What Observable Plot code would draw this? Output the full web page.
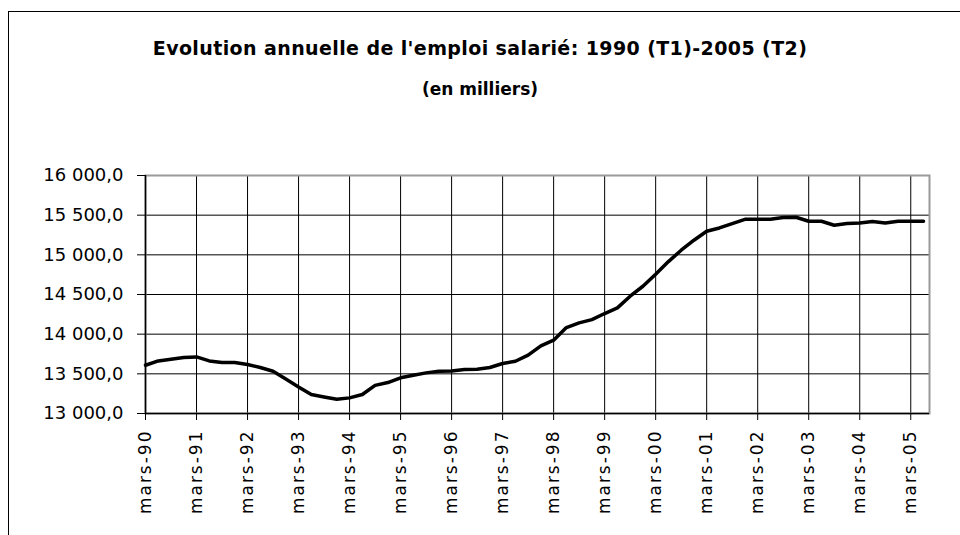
<!DOCTYPE html>
<html>
<head>
<meta charset="utf-8">
<script src="https://cdn.jsdelivr.net/npm/d3@7"></script>
<script src="https://cdn.jsdelivr.net/npm/@observablehq/plot@0.6"></script>
<style>
  html, body { margin: 0; padding: 0; background: #fff; }
  #wrap { position: relative; width: 960px; height: 535px; overflow: hidden; background: #fff; }
  #frame { position: absolute; left: 8px; top: 11px; width: 1000px; height: 600px; border: 1px solid #000; box-sizing: border-box; }
  .t { position: absolute; left: 0; width: 960px; text-align: center; font-family: "DejaVu Sans", sans-serif; font-weight: bold; color: #000; }
  #chart { position: absolute; left: 0; top: 150px; }
  #chart g[aria-label="x-axis tick label"] text { letter-spacing: 2px; }
</style>
</head>
<body>
<div id="wrap">
  <div id="frame"></div>
  <div class="t" style="top:37px;font-size:19px;letter-spacing:0.4px">Evolution annuelle de l'emploi salarié: 1990 (T1)-2005 (T2)</div>
  <div class="t" style="top:79px;font-size:17px">(en milliers)</div>
  <div id="chart"></div>
</div>
<script>
// Quarterly salaried employment (thousands), 1990 T1 -> 2005 T2
const values = [
  13608, 13663, 13684, 13705, 13713, 13663, 13642, 13642,
  13617, 13580, 13533, 13436, 13335, 13239, 13209, 13180,
  13197, 13239, 13355, 13390, 13450, 13482, 13512, 13533,
  13537, 13554, 13558, 13580, 13630, 13659, 13735, 13852,
  13924, 14083, 14142, 14184, 14260, 14331, 14478, 14604,
  14755, 14915, 15058, 15184, 15297, 15339, 15394, 15448,
  15448, 15448, 15470, 15474, 15423, 15423, 15373, 15394,
  15400, 15419, 15400, 15423, 15423, 15423
];
const tickLabels = [
  "mars-90", "mars-91", "mars-92", "mars-93", "mars-94", "mars-95", "mars-96", "mars-97",
  "mars-98", "mars-99", "mars-00", "mars-01", "mars-02", "mars-03", "mars-04", "mars-05"
];
const yTicks = [13000, 13500, 14000, 14500, 15000, 15500, 16000];

const data = values.map((v, i) => ({q: i, v}));
const xTicks = tickLabels.map((_, k) => k * 4);
const fr = d3.formatLocale({decimal: ",", thousands: " ", grouping: [3], currency: ["", " €"]});
const fmt = fr.format(",.1f");

const chart = Plot.plot({
  width: 960,
  height: 385,
  marginLeft: 145,
  marginRight: 31,
  marginTop: 25,
  marginBottom: 122,
  style: {fontFamily: "DejaVu Sans, sans-serif", background: "transparent", color: "#000"},
  x: {domain: [0, 61.47], ticks: xTicks},
  y: {domain: [13000, 16000], ticks: yTicks},
  marks: [
    Plot.gridY(yTicks, {stroke: "#000", strokeOpacity: 1, strokeWidth: 1}),
    Plot.gridX(xTicks, {stroke: "#000", strokeOpacity: 1, strokeWidth: 1}),
    Plot.frame({stroke: "#999", strokeWidth: 2}),
    Plot.ruleX([0], {stroke: "#000", strokeWidth: 1.5}),
    Plot.ruleY([13000], {stroke: "#000", strokeWidth: 1.5}),
    Plot.axisY(yTicks, {tickFormat: fmt, tickSize: 8, tickPadding: 14, fontSize: 18, label: null}),
    Plot.axisX(xTicks, {tickFormat: d => tickLabels[d / 4], tickSize: 7, tickPadding: 9, tickRotate: -90, fontSize: 17, label: null}),
    Plot.line(data, {x: "q", y: "v", stroke: "#000", strokeWidth: 3.5, strokeLinejoin: "round"})
  ]
});
document.getElementById("chart").appendChild(chart);
</script>
</body>
</html>
